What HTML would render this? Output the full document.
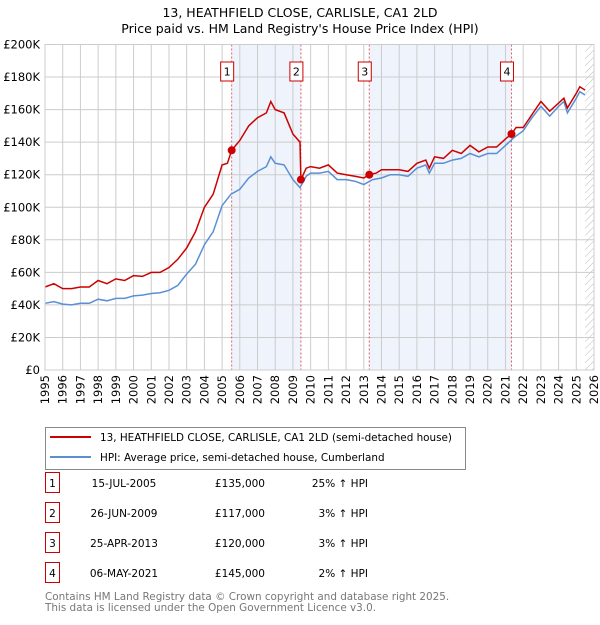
<!DOCTYPE html>
<html><head><meta charset="utf-8"><style>
body{margin:0;background:#fff;font-family:"Liberation Sans","DejaVu Sans",sans-serif;}
svg text{font-family:"DejaVu Sans","Liberation Sans",sans-serif;}
</style></head><body>
<svg id="chart" width="600" height="620" viewBox="0 0 600 620" xmlns="http://www.w3.org/2000/svg">
<defs><pattern id="hatch" width="5" height="5" patternUnits="userSpaceOnUse" patternTransform="rotate(45)"><line x1="0" y1="0" x2="0" y2="5" stroke="#bbb" stroke-width="1"/></pattern></defs>
<text x="300" y="17" text-anchor="middle" font-size="12.5">13, HEATHFIELD CLOSE, CARLISLE, CA1 2LD</text>
<text x="300" y="33" text-anchor="middle" font-size="12.5">Price paid vs. HM Land Registry's House Price Index (HPI)</text>
<g id="plot"></g>
<g>
<rect x="45.5" y="427.5" width="420" height="42" fill="#fff" stroke="#888"/>
<line x1="50" y1="437" x2="91" y2="437" stroke="#cc0000" stroke-width="2"/>
<text x="100" y="441" font-size="10.4">13, HEATHFIELD CLOSE, CARLISLE, CA1 2LD (semi-detached house)</text>
<line x1="50" y1="457" x2="91" y2="457" stroke="#5b8fd4" stroke-width="2"/>
<text x="100" y="461" font-size="10.4">HPI: Average price, semi-detached house, Cumberland</text>
</g>
<g id="table"></g>
<text x="45" y="600" font-size="10.4" fill="#777">Contains HM Land Registry data © Crown copyright and database right 2025.</text>
<text x="45" y="611" font-size="10.4" fill="#777">This data is licensed under the Open Government Licence v3.0.</text>
</svg>
<script>
const hpiYears=[1995,1995.5,1996,1996.5,1997,1997.5,1998,1998.5,1999,1999.5,2000,2000.5,2001,2001.5,2002,2002.5,2003,2003.5,2004,2004.5,2005,2005.5,2006,2006.5,2007,2007.5,2007.75,2008,2008.5,2009,2009.4,2009.75,2010,2010.5,2011,2011.5,2012,2012.5,2013,2013.5,2014,2014.5,2015,2015.5,2016,2016.5,2016.7,2017,2017.5,2018,2018.5,2019,2019.5,2020,2020.5,2021,2021.5,2022,2022.5,2023,2023.5,2024,2024.3,2024.5,2025,2025.2,2025.5];
const hpiValues=[41,42,40.5,40,41,41,43.5,42.5,44,44,45.5,46,47,47.5,49,52,59,65,77,85,101,108,111,118,122,125,131,127,126,117,112,119,121,121,122,117,117,116,114,117,118,120,120,119,124,126,121,127,127,129,130,133,131,133,133,138,143,147,155,162,156,162,165,158,167,171,169];
const priceYears=[1995,1995.5,1996,1996.5,1997,1997.5,1998,1998.5,1999,1999.5,2000,2000.5,2001,2001.5,2002,2002.5,2003,2003.5,2004,2004.5,2005,2005.3,2005.54,2006,2006.5,2007,2007.5,2007.75,2008,2008.5,2009,2009.4,2009.45,2009.75,2010,2010.5,2011,2011.5,2012,2012.5,2013,2013.31,2013.7,2014,2014.5,2015,2015.5,2016,2016.5,2016.7,2017,2017.5,2018,2018.5,2019,2019.5,2020,2020.5,2021,2021.34,2021.6,2022,2022.5,2023,2023.5,2024,2024.3,2024.5,2025,2025.2,2025.5];
const priceValues=[51,53,50,50,51,51,55,53,56,55,58,57.5,60,60,63,68,75,85,100,108,126,127,135,141,150,155,158,165,160,158,145,140,117,124,125,124,126,121,120,119,118,120,121,123,123,123,122,127,129,124,131,130,135,133,138,134,137,137,142,145,149,149,157,165,159,164,167,161,170,174,172];
const saleDates=[2005.54,2009.45,2013.31,2021.34];
const saleLabels=["15-JUL-2005","26-JUN-2009","25-APR-2013","06-MAY-2021"];
const salePrices=[135,117,120,145];
const salePriceText=["£135,000","£117,000","£120,000","£145,000"];
const saleHpiText=["25% ↑ HPI","3% ↑ HPI","3% ↑ HPI","2% ↑ HPI"];
const yTicks=[0,20,40,60,80,100,120,140,160,180,200];
const xTicks=[];for(let y=1995;y<=2026;y++)xTicks.push(y);

const NS="http://www.w3.org/2000/svg";
const X0=45,X1=594,Y0=370,Y1=44.5;
const xs=y=>X0+(y-1995)/(2026-1995)*(X1-X0);
const ys=v=>Y0-v/200*(Y0-Y1);
const plot=document.getElementById('plot');
function mk(tag,attrs,parent){const e=document.createElementNS(NS,tag);for(const k in attrs)e.setAttribute(k,attrs[k]);(parent||plot).appendChild(e);return e;}
for(let i=0;i<4;i+=2){
 const r=mk('rect',{x:xs(saleDates[i]),y:Y1,width:xs(saleDates[i+1])-xs(saleDates[i]),height:Y0-Y1,fill:'#eef3fc'});
 
 
}
const hx=xs(2025.5);
const hr=mk('rect',{x:hx,y:Y1,width:X1-hx,height:Y0-Y1,fill:'url(#hatch)'});


xTicks.forEach(t=>{
 const l=mk('line',{x1:xs(t),x2:xs(t),y1:Y1,y2:Y0,stroke:'#ccc','stroke-width':1});
 
 
 const tx=mk('text',{transform:`translate(${xs(t)+4},${Y0+5}) rotate(-90)`,'text-anchor':'end','font-size':11.5});
 tx.textContent=t;
 
 
});
yTicks.forEach(t=>{
 const l=mk('line',{x1:X0,x2:X1,y1:ys(t),y2:ys(t),stroke:'#ccc','stroke-width':1});
 
 
 const tx=mk('text',{x:40,y:ys(t)+4,'text-anchor':'end','font-size':11.5});
 tx.textContent=t===0?'£0':'£'+t+'K';
 
 
});
saleDates.forEach((d,i)=>{
 const l=mk('line',{x1:xs(d),x2:xs(d),y1:Y1,y2:Y0,stroke:'#e06060','stroke-width':1,'stroke-dasharray':'2,2'});
 
 
});
const pts=(xa,va)=>xa.map((x,i)=>xs(x).toFixed(1)+','+ys(va[i]).toFixed(1)).join(' ');
const hl=mk('polyline',{points:pts(hpiYears,hpiValues),fill:'none',stroke:'#5b8fd4','stroke-width':1.5});


const pl=mk('polyline',{points:pts(priceYears,priceValues),fill:'none',stroke:'#cc0000','stroke-width':1.5});


saleDates.forEach((d,i)=>{
 const c=mk('circle',{cx:xs(d),cy:ys(salePrices[i]),r:4,fill:'#cc0000'});
 
 
 const g=mk('g',{});
 
 
 mk('rect',{x:xs(d)-11,y:62,width:13,height:19,fill:'#fff',stroke:'#cc0000'},g);
 const t=mk('text',{x:xs(d)-4.5,y:75.5,'text-anchor':'middle','font-size':11},g);t.textContent=i+1;
});
const ax=mk('rect',{x:X0,y:Y1,width:X1-X0,height:Y0-Y1,fill:'none',stroke:'#ccc'});


const tb=document.getElementById('table');
saleDates.forEach((d,i)=>{
 const y=483+i*30;
 const g=mk('g',{},tb);
 
 
 mk('rect',{x:45.5,y:y-10.5,width:14,height:20,fill:'#fff',stroke:'#cc0000'},g);
 let t=mk('text',{x:52.5,y:y+4,'text-anchor':'middle','font-size':10.5},g);t.textContent=i+1;
 t=mk('text',{x:124,y:y+4,'text-anchor':'middle','font-size':10.5},g);t.textContent=saleLabels[i];
 t=mk('text',{x:265,y:y+4,'text-anchor':'end','font-size':10.5},g);t.textContent=salePriceText[i];
 t=mk('text',{x:368,y:y+4,'text-anchor':'end','font-size':10.5},g);t.textContent=saleHpiText[i];
});
</script>
</body></html>
